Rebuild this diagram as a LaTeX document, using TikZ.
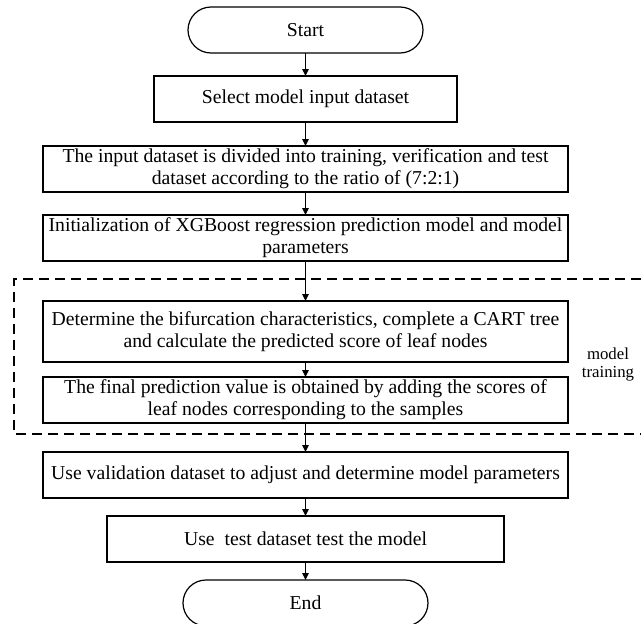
\documentclass[tikz,border=0pt]{standalone}
\usepackage{fontspec}
\setmainfont{Liberation Serif}
\usetikzlibrary{arrows.meta}
\begin{document}
\begin{tikzpicture}[x=1pt,y=-1pt,
  every node/.style={inner sep=0pt,outer sep=0pt},
  boxnode/.style={draw,line width=1.2pt,minimum height=46pt,align=center,
    font=\fontsize{19.7}{21.7}\selectfont},
  termnode/.style={boxnode,rounded corners=23pt},
  flow/.style={line width=1.2pt,-{Triangle[width=6.5pt,length=7pt]}},
  region/.style={line width=1.2pt,dash pattern=on 10pt off 6pt}]
\useasboundingbox (0,0) rectangle (641,624);
\node[termnode,minimum width=235pt] (start) at (305.5,30) {Start};
\node[boxnode,minimum width=303pt] (select) at (305.5,99) {Select model input dataset};
\node[boxnode,minimum width=525pt] (divide) at (305.5,169)
  {The input dataset is divided into training, verification and test\\dataset according to the ratio of (7:2:1)};
\node[boxnode,minimum width=525pt] (init) at (305.5,238)
  {Initialization of XGBoost regression prediction model and model\\parameters};
\node[boxnode,minimum width=525pt,minimum height=61pt] (determine) at (305.5,331.5)
  {Determine the bifurcation characteristics, complete a CART tree\\and calculate the predicted score of leaf nodes};
\node[boxnode,minimum width=525pt] (final) at (305.5,400)
  {The final prediction value is obtained by adding the scores of\\leaf nodes corresponding to the samples};
\node[boxnode,minimum width=525pt] (valid) at (305.5,475)
  {Use validation dataset to adjust and determine model parameters};
\node[boxnode,minimum width=397pt] (test) at (305.5,539) {Use\ \ test dataset test the model};
\node[termnode,minimum width=245pt] (end) at (305.5,603) {End};
\node[align=center,font=\fontsize{16.8}{18}\selectfont] (label) at (608,364) {model\\training};
\coordinate (r1) at (641,279);
\coordinate (l1) at (14,279);
\coordinate (l2) at (14,434);
\coordinate (r2) at (641,434);
\draw[region] (r1) -- (l1) -- (l2) -- (r2);
\draw[flow] (start) -- (select);
\draw[flow] (select) -- (divide);
\draw[flow] (divide) -- (init);
\draw[flow] (init) -- (determine);
\draw[flow] (determine) -- (final);
\draw[flow] (final) -- (valid);
\draw[flow] (valid) -- (test);
\draw[flow] (test) -- (end);
\end{tikzpicture}
\end{document}
